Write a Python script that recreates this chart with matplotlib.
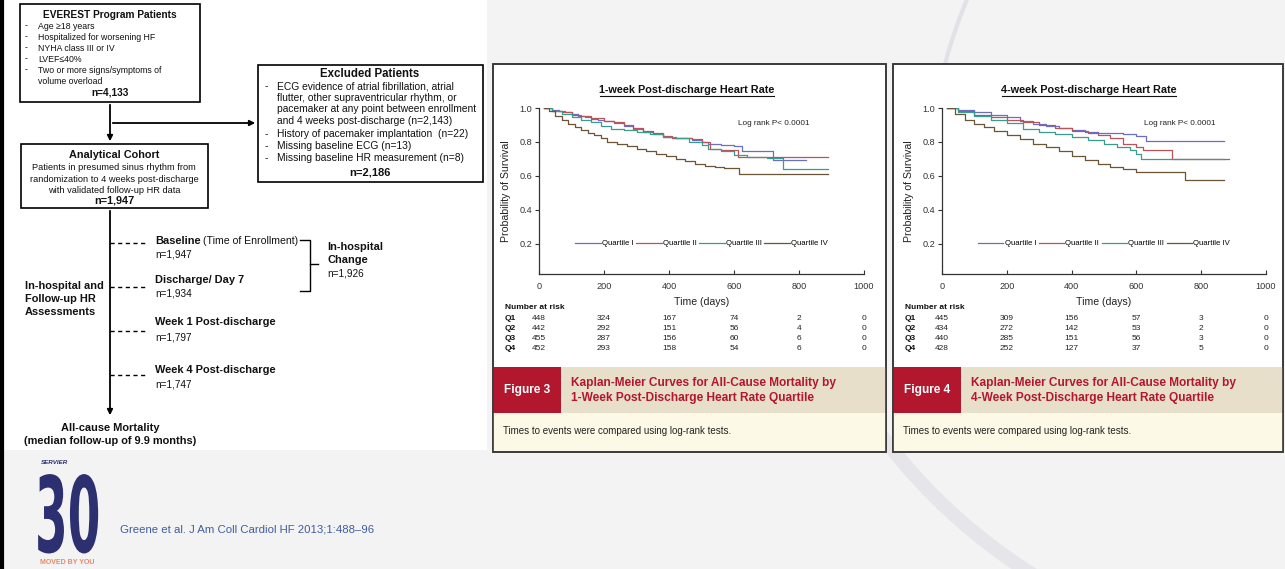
import matplotlib
matplotlib.use("Agg")
import matplotlib.pyplot as plt
from matplotlib.patches import Rectangle, Arc, PathPatch
from matplotlib.textpath import TextPath
from matplotlib.font_manager import FontProperties
from matplotlib.transforms import Affine2D, blended_transform_factory

plt.rcParams['font.family'] = ['Liberation Sans', 'DejaVu Sans']

# ---- data ----
quartiles = ['Quartile I', 'Quartile II', 'Quartile III', 'Quartile IV']
colors = ['#6b6fc4', '#b8545a', '#3a9b8f', '#6d5436']

# 1-week post-discharge HR (Figure 3)
w1_q1_t = [15, 40, 60, 80, 100, 120, 140, 160, 180, 200, 230, 260, 290, 320, 350, 380, 410, 440, 470, 500, 520, 560, 600, 625, 720, 822]
w1_q1_s = [1.0, .99, .98, .975, .965, .955, .945, .935, .93, .925, .91, .895, .875, .86, .845, .83, .825, .82, .81, .80, .79, .78, .775, .745, .695, .695]
w1_q2_t = [15, 40, 70, 100, 130, 160, 200, 230, 260, 290, 320, 350, 380, 410, 440, 470, 500, 525, 560, 600, 612, 890]
w1_q2_s = [1.0, .985, .975, .96, .95, .94, .925, .915, .90, .88, .865, .85, .835, .825, .82, .815, .80, .76, .755, .75, .711, .711]
w1_q3_t = [15, 40, 70, 100, 130, 160, 190, 220, 260, 300, 340, 380, 420, 460, 500, 520, 560, 600, 640, 700, 751, 890]
w1_q3_s = [1.0, .98, .965, .945, .93, .915, .895, .875, .87, .86, .845, .83, .82, .80, .78, .76, .745, .725, .71, .705, .638, .638]
w1_q4_t = [15, 30, 50, 70, 90, 110, 130, 150, 170, 190, 210, 240, 270, 300, 330, 360, 390, 420, 450, 480, 510, 540, 570, 600, 615, 890]
w1_q4_s = [1.0, .98, .955, .93, .905, .885, .87, .855, .84, .82, .80, .79, .775, .76, .745, .73, .715, .70, .685, .67, .655, .65, .648, .645, .613, .613]

# 4-week post-discharge HR (Figure 4)
w4_q1_t = [15, 50, 100, 150, 200, 240, 280, 320, 360, 400, 440, 480, 520, 560, 600, 630, 870]
w4_q1_s = [1.0, .99, .975, .96, .945, .925, .905, .895, .88, .87, .86, .855, .85, .845, .835, .805, .805]
w4_q2_t = [15, 50, 100, 150, 200, 250, 300, 350, 400, 450, 480, 520, 560, 600, 620, 710, 885]
w4_q2_s = [1.0, .985, .96, .945, .93, .915, .90, .88, .865, .85, .84, .82, .79, .77, .75, .70, .70]
w4_q3_t = [15, 50, 100, 150, 200, 250, 300, 350, 400, 450, 500, 540, 580, 600, 615, 870]
w4_q3_s = [1.0, .975, .95, .93, .91, .875, .86, .845, .83, .81, .79, .77, .755, .73, .70, .70]
w4_q4_t = [15, 40, 70, 100, 130, 160, 200, 240, 280, 320, 360, 400, 440, 480, 520, 560, 600, 750, 870]
w4_q4_s = [1.0, .965, .93, .905, .885, .865, .84, .815, .79, .77, .745, .715, .695, .67, .65, .64, .625, .575, .575]

risk_times = [0, 200, 400, 600, 800, 1000]
risk_1wk = [[448, 324, 167, 74, 2, 0],
            [442, 292, 151, 56, 4, 0],
            [455, 287, 156, 60, 6, 0],
            [452, 293, 158, 54, 6, 0]]
risk_4wk = [[445, 309, 156, 57, 3, 0],
            [434, 272, 142, 53, 2, 0],
            [440, 285, 151, 56, 3, 0],
            [428, 252, 127, 37, 5, 0]]

W, H = 1285, 569
fig = plt.figure(figsize=(W / 100, H / 100), dpi=100, facecolor='#f3f3f4')

# overlay in pixel coordinates (y down)
ov = fig.add_axes([0, 0, 1, 1], zorder=0)
ov.set_xlim(0, W)
ov.set_ylim(H, 0)
ov.axis('off')

# background swooshes
ov.add_patch(Arc((1330, 100), 1120, 1120, theta1=95, theta2=150, color='#e6e6ea', lw=10))
ov.add_patch(Arc((1450, 200), 1046, 1046, theta1=190, theta2=205, color='#e2e2e6', lw=3))

# left flowchart panel
ov.add_patch(Rectangle((0, 0), 487, 450, facecolor='white', edgecolor='none'))
ov.plot([1.5, 1.5], [0, H], color='black', lw=3)

def box(x0, y0, x1, y1):
    ov.add_patch(Rectangle((x0, y0), x1 - x0, y1 - y0, facecolor='white', edgecolor='black', lw=1.2))

def txt(x, y, s, size=7, bold=False, ha='left', color='#111111', **kw):
    ov.text(x, y, s, fontsize=size, fontweight='bold' if bold else 'normal',
            ha=ha, va='center', color=color, **kw)

# box 1
box(20, 4, 200, 102)
txt(110, 15, 'EVEREST Program Patients', 7.3, True, 'center')
b1 = ['Age \u226518 years', 'Hospitalized for worsening HF', 'NYHA class III or IV',
      'LVEF\u226440%', 'Two or more signs/symptoms of']
for i, s in enumerate(b1):
    y = 26 + i * 11
    txt(25, y, '-', 6.3)
    txt(38, y, s, 6.3)
txt(38, 81, 'volume overload', 6.3)
txt(110, 92, 'n=4,133', 7.3, True, 'center')

# arrows
ov.annotate('', xy=(110, 144), xytext=(110, 102),
            arrowprops=dict(arrowstyle='-|>', color='black', lw=1.3, mutation_scale=8))
ov.annotate('', xy=(258, 123), xytext=(110, 123),
            arrowprops=dict(arrowstyle='-|>', color='black', lw=1.3, mutation_scale=8))

# box 3 excluded
box(258, 65, 483, 182)
txt(370, 74, 'Excluded Patients', 8.3, True, 'center')
ex = [('-', 'ECG evidence of atrial fibrillation, atrial'),
      ('', 'flutter, other supraventricular rhythm, or'),
      ('', 'pacemaker at any point between enrollment'),
      ('', 'and 4 weeks post-discharge (n=2,143)'),
      ('-', 'History of pacemaker implantation  (n=22)'),
      ('-', 'Missing baseline ECG (n=13)'),
      ('-', 'Missing baseline HR measurement (n=8)')]
ex_y = [86, 98, 109, 121, 134, 146, 158]
for (d, s), y in zip(ex, ex_y):
    if d:
        txt(265, y, d, 7.4)
    txt(277, y, s, 7.4)
txt(370, 172, 'n=2,186', 8, True, 'center')

# box 2 analytical cohort
box(21, 144, 208, 208)
txt(114, 155, 'Analytical Cohort', 7.8, True, 'center')
txt(114, 167, 'Patients in presumed sinus rhythm from', 6.7, ha='center')
txt(114, 179, 'randomization to 4 weeks post-discharge', 6.7, ha='center')
txt(114, 190, 'with validated follow-up HR data', 6.7, ha='center')
txt(114, 200, 'n=1,947', 7.8, True, 'center')

# timeline
ov.annotate('', xy=(110, 418), xytext=(110, 208),
            arrowprops=dict(arrowstyle='-|>', color='black', lw=1.3, mutation_scale=8))
steps = [(243, 'Baseline', 'n=1,947'), (287, 'Discharge/ Day 7', 'n=1,934'),
         (331, 'Week 1 Post-discharge', 'n=1,797'), (375, 'Week 4 Post-discharge', 'n=1,747')]
lab_y = [241, 280, 322, 370]
n_y = [254, 293, 337, 384]
for (yl, lab, n), ly, ny in zip(steps, lab_y, n_y):
    ov.plot([110, 148], [yl, yl], color='black', lw=1, ls=(0, (3, 2.5)))
    txt(155, ly, lab, 7.9, True)
    txt(155, ny, n, 7.2)
txt(203, 241, '(Time of Enrollment)', 7.6)
ov.plot([300, 310, 310, 300], [240, 240, 291, 291], color='black', lw=1)
ov.plot([310, 318], [264, 264], color='black', lw=1)
txt(327, 247, 'In-hospital', 7.9, True)
txt(327, 260, 'Change', 7.9, True)
txt(327, 273, 'n=1,926', 7.2)
txt(25, 286, 'In-hospital and', 7.9, True)
txt(25, 299, 'Follow-up HR', 7.9, True)
txt(25, 312, 'Assessments', 7.9, True)
txt(110, 428, 'All-cause Mortality', 7.9, True, 'center')
txt(110, 441, '(median follow-up of 9.9 months)', 7.9, True, 'center')


def km_panel(x0, x1, ax_left, ax_right, title, curves, risk, fignum, caption, lr_x):
    # panel frame
    ov.add_patch(Rectangle((x0, 64), x1 - x0, 388, facecolor='white', edgecolor='#3a3a3a', lw=1.2))
    # axes
    top, bot = 108, 274
    ax = fig.add_axes([ax_left / W, 1 - bot / H, (ax_right - ax_left) / W, (bot - top) / H], zorder=2)
    ax.set_facecolor('none')
    for (t, s), c, lab in zip(curves, colors, quartiles):
        ax.step(t, s, where='post', color=c, lw=0.9, label=lab)
    ax.set_xlim(0, 1000)
    ax.set_ylim(0.02, 1.0)
    ax.set_xticks(risk_times)
    ax.set_yticks([0.2, 0.4, 0.6, 0.8, 1.0])
    ax.set_yticklabels(['0.2', '0.4', '0.6', '0.8', '1.0'])
    for side in ['top', 'right']:
        ax.spines[side].set_visible(False)
    for side in ['left', 'bottom']:
        ax.spines[side].set_color('#333333')
        ax.spines[side].set_linewidth(0.9)
    ax.tick_params(axis='y', direction='out', length=3, width=0.8, labelsize=6.6, colors='#333333', pad=2)
    ax.tick_params(axis='x', direction='in', length=3, width=0.8, labelsize=6.6, colors='#333333', pad=6)
    ax.set_ylabel('Probability of Survival', fontsize=7.6, color='#222222', labelpad=6)
    ax.set_xlabel('Time (days)', fontsize=7.6, color='#222222', labelpad=4)
    ax.text(lr_x, 0.905, 'Log rank P< 0.0001', transform=ax.transAxes, fontsize=5.9,
            ha='center', va='center', color='#222222')
    leg = ax.legend(loc='center', bbox_to_anchor=(500, 0.2), bbox_transform=ax.transData,
                    ncol=4, frameon=False, fontsize=5.6, handlelength=3.3,
                    handletextpad=0.15, columnspacing=0.3)
    for h in leg.get_lines():
        h.set_linewidth(0.9)
    # title with underline
    cx = (ax_left + ax_right) / 2 - 15
    txt(cx, 90, title, 7.8, True, 'center')
    ov.plot([cx - 87, cx + 87], [96, 96], color='#111111', lw=0.8)
    # number at risk
    bt = blended_transform_factory(ax.transData, ov.transData)
    txt(x0 + 12, 307, 'Number at risk', 6, True)
    for i, row in enumerate(risk):
        y = 318 + i * 10.3
        txt(x0 + 12, y, 'Q%d' % (i + 1), 6, True)
        for t, v in zip(risk_times, row):
            ov.text(t, y, str(v), transform=bt, fontsize=6, ha='center', va='center', color='#222222')
    # caption banner
    ov.add_patch(Rectangle((x0, 367), 68, 46, facecolor='#b3172e', edgecolor='none'))
    ov.add_patch(Rectangle((x0 + 68, 367), x1 - x0 - 68, 46, facecolor='#e8dfcb', edgecolor='none'))
    ov.add_patch(Rectangle((x0, 413), x1 - x0, 38, facecolor='#fcf9e6', edgecolor='none'))
    txt(x0 + 34, 390, fignum, 8.6, True, 'center', color='white')
    txt(x0 + 78, 383, caption[0], 8.6, True, color='#b3172e')
    txt(x0 + 78, 398, caption[1], 8.6, True, color='#b3172e')
    txt(x0 + 10, 431, 'Times to events were compared using log-rank tests.', 7, color='#222222')
    ov.add_patch(Rectangle((x0, 64), x1 - x0, 388, facecolor='none', edgecolor='#3a3a3a', lw=1.2))
    return ax


km_panel(493, 886, 539, 864, '1-week Post-discharge Heart Rate',
         [(w1_q1_t, w1_q1_s), (w1_q2_t, w1_q2_s), (w1_q3_t, w1_q3_s), (w1_q4_t, w1_q4_s)],
         risk_1wk, 'Figure 3',
         ['Kaplan-Meier Curves for All-Cause Mortality by', '1-Week Post-Discharge Heart Rate Quartile'],
         0.723)
km_panel(893, 1283, 942, 1266, '4-week Post-discharge Heart Rate',
         [(w4_q1_t, w4_q1_s), (w4_q2_t, w4_q2_s), (w4_q3_t, w4_q3_s), (w4_q4_t, w4_q4_s)],
         risk_4wk, 'Figure 4',
         ['Kaplan-Meier Curves for All-Cause Mortality by', '4-Week Post-Discharge Heart Rate Quartile'],
         0.735)

# logo + reference
tp = TextPath((0, 0), '30', size=1, prop=FontProperties(family='DejaVu Sans', weight='bold'))
ov.add_patch(PathPatch(tp, facecolor='#2d3070', edgecolor='none',
                       transform=Affine2D().scale(47, -105).translate(35, 552) + ov.transData))
txt(55, 462, 'SERVIER', 4.5, True, 'center', color='#2d3070', style='italic')
txt(67, 562, 'MOVED BY YOU', 5, True, 'center', color='#e8876b')
txt(120, 530, 'Greene et al. J Am Coll Cardiol HF 2013;1:488\u201396', 8.2, color='#3f5d9e')

fig.savefig('out.png', dpi=100, facecolor=fig.get_facecolor())
